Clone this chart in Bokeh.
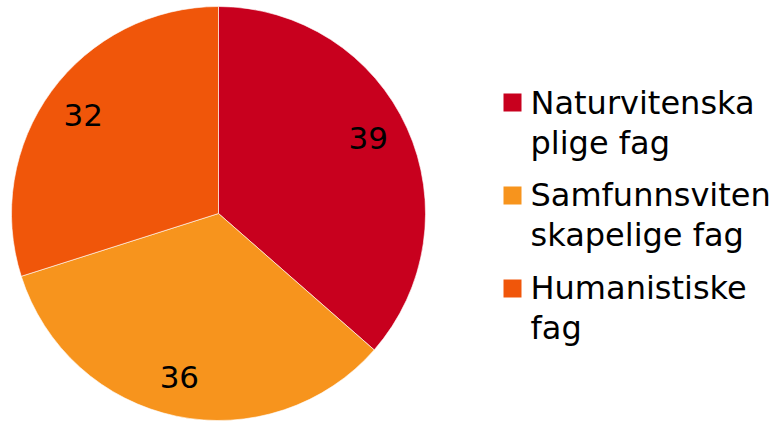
import numpy as np
from bokeh.plotting import figure
from bokeh.models import Range1d, ColumnDataSource
from bokeh.core.properties import value
from bokeh.embed import file_html
from bokeh.resources import INLINE

# ---- data ----
categories = ["Naturvitenskaplige fag", "Samfunnsvitenskapelige fag", "Humanistiske fag"]
legend_lines = [["Naturvitenska", "plige fag"], ["Samfunnsviten", "skapelige fag"], ["Humanistiske", "fag"]]
values = [39, 36, 32]
colors = ["#C8001E", "#F7941D", "#F0560A"]

# ---- layout constants ----
W, H = 773, 421
CX, CY, R = 218, 208, 207
LABEL_R = 0.81 * R
FONT = "DejaVu Sans"

p = figure(width=W, height=H, output_backend="svg", toolbar_location=None,
           x_axis_type=None, y_axis_type=None, min_border=0,
           x_range=Range1d(0, W), y_range=Range1d(0, H))
p.outline_line_color = None
p.background_fill_color = "white"
p.border_fill_color = "white"

vals = np.array(values, dtype=float)
frac = vals / vals.sum()
cum = np.concatenate([[0], np.cumsum(frac)])
start = np.pi / 2 - cum[:-1] * 2 * np.pi
end = np.pi / 2 - cum[1:] * 2 * np.pi
mid = (start + end) / 2
lab_ang = mid + np.array([0.04, -0.03, 0.0])

src = ColumnDataSource(dict(start=start, end=end, color=colors, cat=categories,
                            lx=CX + LABEL_R * np.cos(lab_ang), ly=CY + LABEL_R * np.sin(lab_ang),
                            txt=[str(v) for v in values]))
p.wedge(x=CX, y=CY, radius=R, start_angle="start", end_angle="end", direction="clock",
        fill_color="color", line_color="white", line_width=0.6, source=src)
p.text(x="lx", y="ly", text="txt", source=src, text_font=value(FONT), text_font_size="31px",
       text_align="center", text_baseline="middle", text_color="black")

# ---- legend (manual, wrapped like reference) ----
LX_SQ, LX_TXT = 512, 530
first_base = [319, 227, 134]
sq_y = [319, 226, 133]
p.rect(x=[LX_SQ] * 3, y=sq_y, width=18, height=18, fill_color=colors, line_color=None)
tx, ty, tt = [], [], []
for i, lines in enumerate(legend_lines):
    for j, ln in enumerate(lines):
        tx.append(LX_TXT)
        ty.append(first_base[i] - 40 * j)
        tt.append(ln)
p.text(x=tx, y=ty, text=tt, text_font=value(FONT), text_font_size="32px",
       text_align="left", text_baseline="alphabetic", text_color="black")

open("out.html", "w").write(file_html(p, INLINE))
